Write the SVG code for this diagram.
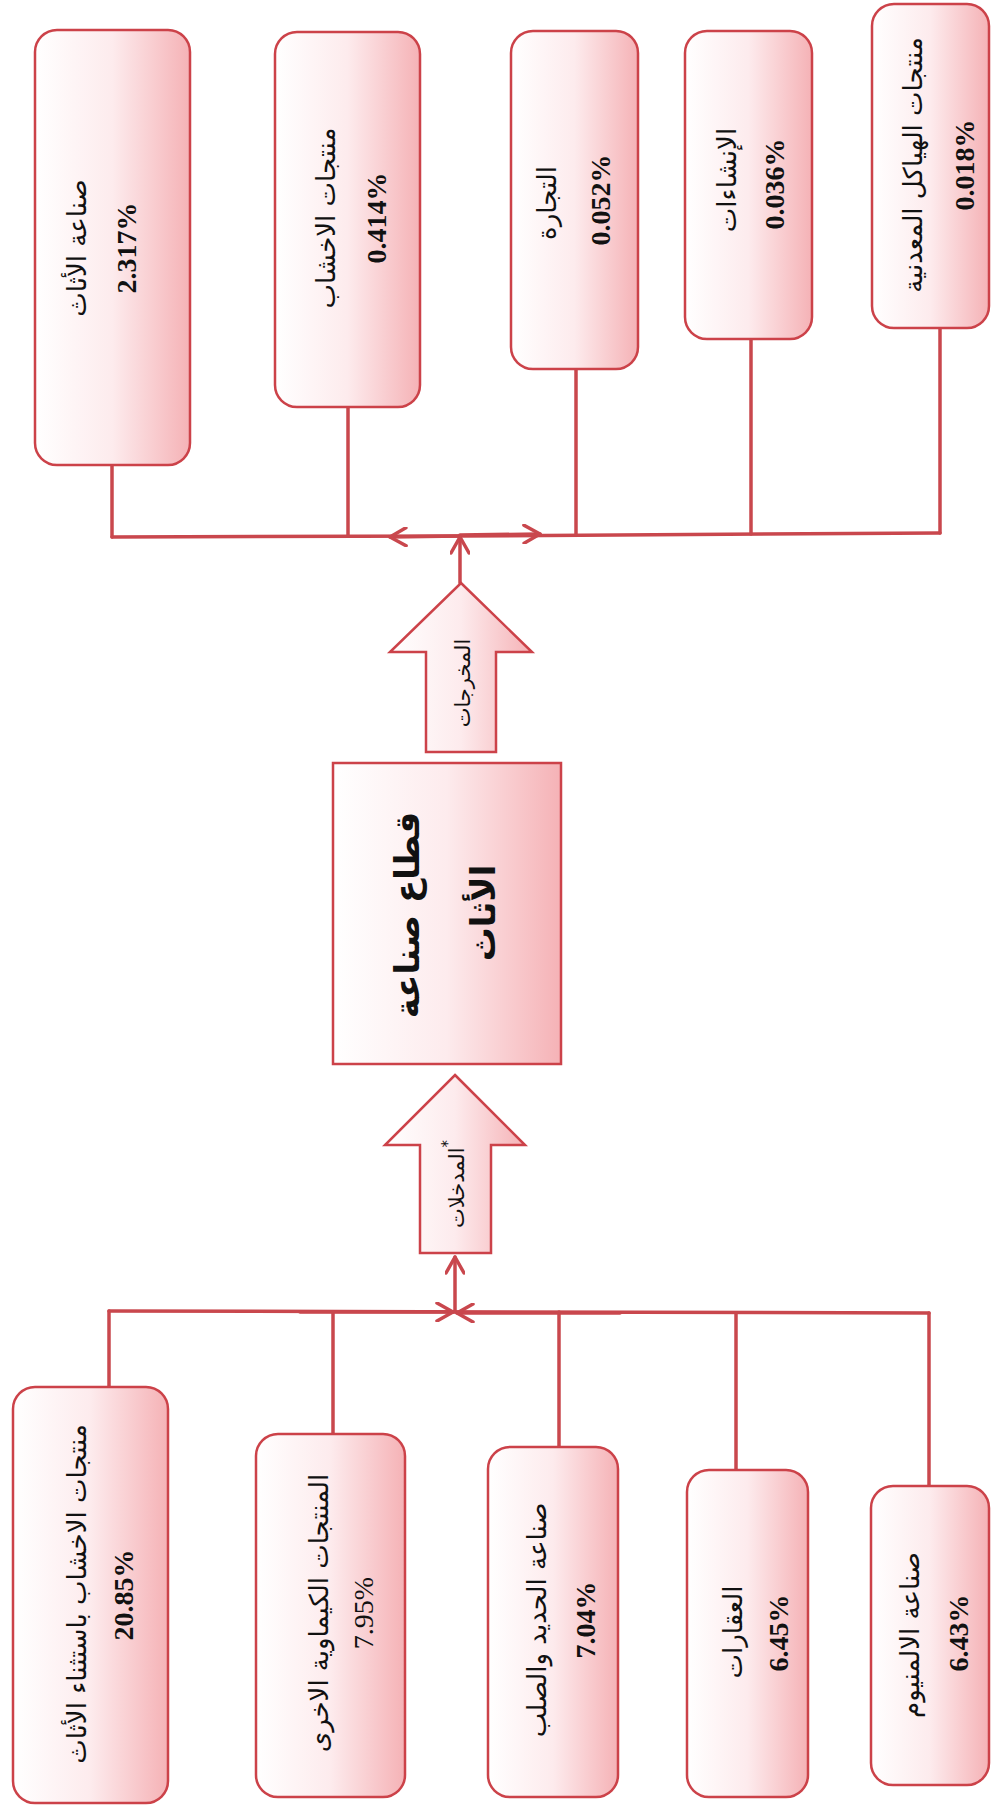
<svg xmlns="http://www.w3.org/2000/svg" width="991" height="1815" viewBox="0 0 991 1815">
<style>
.box{fill:url(#g);stroke:#cc4249;stroke-width:2.5}
.ln{fill:none;stroke:#c9474d;stroke-width:3.5;stroke-linecap:round}
.ar{font-family:"DejaVu Sans","Noto Sans",sans-serif;font-size:26px;fill:#111}
.num{font-family:"Liberation Serif",serif;font-size:28px;font-weight:bold;fill:#111}
.numr{font-family:"Liberation Serif",serif;font-size:28px;fill:#111}
.big{font-family:"DejaVu Sans",sans-serif;font-size:34px;font-weight:bold;fill:#111}
.lbl{font-family:"DejaVu Sans",sans-serif;font-size:21px;fill:#111}
text{dominant-baseline:central;text-anchor:middle}
</style>
<defs>
<linearGradient id="g" x1="0" y1="0" x2="1" y2="0">
<stop offset="0" stop-color="#ffffff"/>
<stop offset="0.5" stop-color="#fdebed"/>
<stop offset="1" stop-color="#f5b2b6"/>
</linearGradient>
<marker id="chev" viewBox="0 0 20 20" refX="18" refY="10" markerWidth="20" markerHeight="20" markerUnits="userSpaceOnUse" orient="auto">
<path d="M2,1 L18,10 L2,19" fill="none" stroke="#c9474d" stroke-width="3.5" stroke-linecap="round" stroke-linejoin="round"/>
</marker>
</defs>

<g id="connectors">
<path class="ln" d="M112,537 L460,536 L940,533"/>
<path class="ln" d="M112,465 L112,537"/>
<path class="ln" d="M348,407 L348,536"/>
<path class="ln" d="M576,369 L576,535"/>
<path class="ln" d="M751,339 L751,534"/>
<path class="ln" d="M940,328 L940,533"/>
<path class="ln" d="M460,536 L390,537" marker-end="url(#chev)"/>
<path class="ln" d="M460,535 L540,534" marker-end="url(#chev)"/>
<path class="ln" d="M460,583 L460,537" marker-end="url(#chev)"/>
<path class="ln" d="M109,1311 L929,1313"/>
<path class="ln" d="M109,1311 L109,1387"/>
<path class="ln" d="M333,1312 L333,1434"/>
<path class="ln" d="M559,1312 L559,1447"/>
<path class="ln" d="M736,1313 L736,1470"/>
<path class="ln" d="M929,1313 L929,1486"/>
<path class="ln" d="M300,1312 L453,1312" marker-end="url(#chev)"/>
<path class="ln" d="M620,1313 L457,1313" marker-end="url(#chev)"/>
<path class="ln" d="M455,1312 L455,1257" marker-end="url(#chev)"/>
</g>

<g id="t1">
<rect class="box" x="35" y="30" width="155" height="435" rx="22"/>
<text class="ar" transform="translate(77,248) rotate(-90)">صناعة الأثاث</text>
<text class="num" transform="translate(126,248) rotate(-90)">2.317%</text>
</g>
<g id="t2">
<rect class="box" x="275" y="32" width="145" height="375" rx="22"/>
<text class="ar" transform="translate(326,218) rotate(-90)">منتجات الاخشاب</text>
<text class="num" transform="translate(376,218) rotate(-90)">0.414%</text>
</g>
<g id="t3">
<rect class="box" x="511" y="31" width="127" height="338" rx="22"/>
<text class="ar" transform="translate(547,203) rotate(-90)">التجارة</text>
<text class="num" transform="translate(600,200) rotate(-90)">0.052%</text>
</g>
<g id="t4">
<rect class="box" x="685" y="31" width="127" height="308" rx="22"/>
<text class="ar" transform="translate(727,180) rotate(-90)">الإنشاءات</text>
<text class="num" transform="translate(774,184) rotate(-90)">0.036%</text>
</g>
<g id="t5">
<rect class="box" x="872" y="4" width="117" height="324" rx="22"/>
<text class="ar" transform="translate(913,165) rotate(-90)">منتجات الهياكل المعدنية</text>
<text class="num" transform="translate(964,165) rotate(-90)">0.018%</text>
</g>

<g id="output-arrow">
<path class="box" d="M461,583 L532,652 L496,652 L496,752 L426,752 L426,652 L390,652 Z"/>
<text class="lbl" transform="translate(463,683) rotate(-90)">المخرجات</text>
</g>

<g id="sector">
<rect class="box" x="333" y="763" width="228" height="301"/>
<text class="big" transform="translate(407,915) rotate(-90)">قطاع صناعة</text>
<text class="big" transform="translate(483,913) rotate(-90)">الأثاث</text>
</g>

<g id="input-arrow">
<path class="box" d="M455,1075 L525,1145 L491,1145 L491,1253 L420,1253 L420,1145 L385,1145 Z"/>
<text class="lbl" direction="rtl" transform="translate(457,1184) rotate(-90)"><tspan font-size="15" baseline-shift="super">*</tspan>المدخلات</text>
</g>

<g id="b1">
<rect class="box" x="13" y="1387" width="155" height="416" rx="22"/>
<text class="ar" transform="translate(77,1594) rotate(-90)">منتجات الاخشاب باستثناء الأثاث</text>
<text class="num" transform="translate(123,1595) rotate(-90)">20.85%</text>
</g>
<g id="b2">
<rect class="box" x="256" y="1434" width="149" height="363" rx="22"/>
<text class="ar" transform="translate(319,1613) rotate(-90)">المنتجات الكيماوية الاخرى</text>
<text class="numr" transform="translate(363,1613) rotate(-90)">7.95%</text>
</g>
<g id="b3">
<rect class="box" x="488" y="1447" width="130" height="350" rx="22"/>
<text class="ar" transform="translate(537,1620) rotate(-90)">صناعة الحديد والصلب</text>
<text class="num" transform="translate(585,1620) rotate(-90)">7.04%</text>
</g>
<g id="b4">
<rect class="box" x="687" y="1470" width="121" height="327" rx="22"/>
<text class="ar" transform="translate(733,1632) rotate(-90)">العقارات</text>
<text class="num" transform="translate(778,1633) rotate(-90)">6.45%</text>
</g>
<g id="b5">
<rect class="box" x="871" y="1486" width="118" height="299" rx="22"/>
<text class="ar" transform="translate(910,1635) rotate(-90)">صناعة الالمنيوم</text>
<text class="num" transform="translate(958,1633) rotate(-90)">6.43%</text>
</g>
</svg>
